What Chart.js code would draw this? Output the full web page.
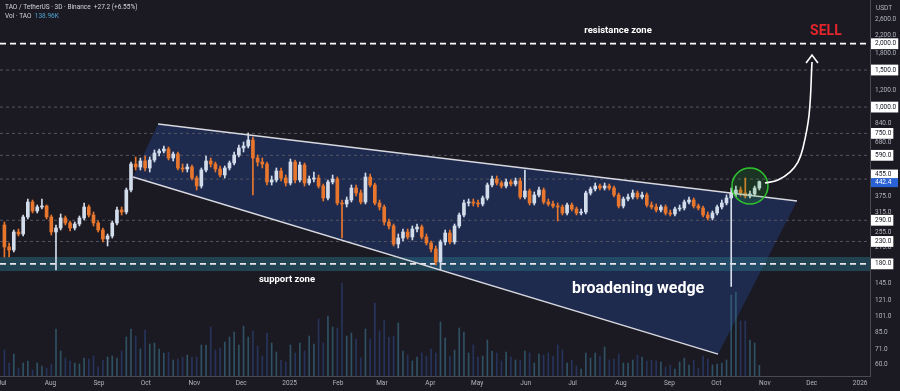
<!DOCTYPE html>
<html><head><meta charset="utf-8">
<script src="https://cdn.jsdelivr.net/npm/chart.js@4.4.1/dist/chart.umd.min.js"></script>
<style>html,body{margin:0;padding:0;background:#1b1a23;overflow:hidden}canvas{display:block}</style>
</head><body>
<canvas id="c" width="900" height="391"></canvas>
<script>
// ---- DATA (TAO/USDT, 3D candles, Binance) ----
const open = [275.4,216.5,209.5,255.1,249.6,300.6,354.1,320.9,335.3,339.0,300.6,255.1,266.5,297.3,281.5,266.5,278.4,297.3,335.3,307.2,281.5,260.7,236.3,244.2,281.5,324.5,317.4,403.8,536.6,519.3,554.5,513.7,560.6,605.2,618.6,632.3,573.0,598.6,513.7,508.1,519.3,460.4,421.9,502.5,554.5,536.6,508.1,475.8,513.7,542.5,592.1,639.3,653.4,697.7,573.0,548.5,536.6,440.7,450.5,497.1,460.4,435.9,548.5,450.5,530.8,435.9,455.4,460.4,421.9,370.0,440.7,455.4,350.3,346.5,361.9,412.7,390.8,354.1,465.5,426.5,350.3,335.3,284.6,272.4,223.7,238.9,255.1,241.5,263.6,269.4,241.5,226.2,211.8,183.8,228.7,252.3,228.7,272.4,307.2,350.3,354.1,350.3,346.5,370.0,426.5,455.4,435.9,421.9,440.7,431.2,445.6,374.0,399.4,350.3,382.3,403.8,354.1,346.5,339.0,335.3,314.0,342.7,328.0,314.0,317.4,390.8,408.2,421.9,412.7,421.9,412.7,382.3,339.0,365.9,374.0,390.8,374.0,382.3,342.7,335.3,324.5,335.3,314.0,310.6,328.0,331.6,354.1,361.9,339.0,331.6,307.2,297.3,314.0,335.3,350.3,370.0,390.8,403.8,390.8,378.2,386.5,412.7];
const high = [284.6,226.2,260.7,263.6,307.2,365.9,361.9,342.7,365.9,342.7,307.2,275.4,310.6,303.9,287.7,284.6,303.9,350.3,342.7,317.4,287.7,266.5,249.6,287.7,335.3,335.3,412.7,548.5,579.3,573.0,585.7,579.3,625.4,632.3,653.4,646.3,611.9,611.9,536.6,536.6,530.8,470.6,513.7,585.7,573.0,548.5,525.0,525.0,554.5,611.9,660.6,682.6,753.3,721.0,592.1,573.0,548.5,470.6,513.7,513.7,475.8,566.8,560.6,548.5,542.5,470.6,491.7,475.8,431.2,450.5,475.8,465.5,361.9,374.0,426.5,426.5,403.8,486.3,481.0,435.9,361.9,342.7,294.1,278.4,249.6,263.6,263.6,272.4,278.4,275.4,249.6,231.2,218.9,233.7,260.7,260.7,278.4,314.0,361.9,365.9,365.9,361.9,378.2,435.9,470.6,470.6,445.6,455.4,450.5,460.4,460.4,502.5,408.2,395.1,417.3,412.7,365.9,358.0,350.3,342.7,350.3,350.3,335.3,328.0,399.4,417.3,435.9,431.2,435.9,431.2,421.9,390.8,374.0,386.5,403.8,399.4,395.1,390.8,354.1,346.5,342.7,342.7,324.5,335.3,342.7,361.9,374.0,370.0,346.5,339.0,317.4,320.9,342.7,361.9,382.3,412.7,421.9,417.3,460.4,399.4,421.9,445.6];
const low = [194.1,194.1,205.0,244.2,244.2,294.1,314.0,314.0,328.0,294.1,246.9,168.4,260.7,275.4,257.9,260.7,272.4,290.9,300.6,272.4,255.1,228.7,218.9,238.9,275.4,307.2,310.6,395.1,502.5,502.5,497.1,491.7,548.5,585.7,605.2,560.6,554.5,502.5,491.7,491.7,450.5,403.8,412.7,491.7,519.3,491.7,465.5,460.4,502.5,530.8,579.3,611.9,639.3,382.3,525.0,513.7,426.5,426.5,440.7,445.6,421.9,426.5,435.9,440.7,421.9,426.5,440.7,412.7,358.0,361.9,431.2,342.7,238.9,335.3,354.1,378.2,346.5,346.5,417.3,342.7,324.5,275.4,263.6,218.9,214.2,231.2,236.3,233.7,255.1,236.3,221.3,205.0,177.8,168.4,221.3,223.7,223.7,266.5,300.6,339.0,339.0,335.3,339.0,361.9,417.3,426.5,412.7,412.7,421.9,421.9,365.9,365.9,342.7,342.7,374.0,346.5,339.0,331.6,287.7,307.2,307.2,320.9,307.2,307.2,310.6,382.3,399.4,403.8,403.8,403.8,374.0,331.6,331.6,358.0,365.9,365.9,365.9,335.3,328.0,317.4,317.4,307.2,303.9,303.9,320.9,324.5,346.5,331.6,324.5,300.6,290.9,290.9,307.2,328.0,342.7,140.6,374.0,378.2,370.0,370.0,378.2,403.8];
const close = [216.5,209.5,255.1,249.6,300.6,354.1,320.9,335.3,339.0,300.6,255.1,266.5,297.3,281.5,266.5,278.4,297.3,335.3,307.2,281.5,260.7,236.3,244.2,281.5,324.5,317.4,403.8,536.6,519.3,554.5,513.7,560.6,605.2,618.6,632.3,573.0,598.6,513.7,508.1,519.3,460.4,421.9,502.5,554.5,536.6,508.1,475.8,513.7,542.5,592.1,639.3,653.4,697.7,573.0,548.5,536.6,440.7,450.5,497.1,460.4,435.9,548.5,450.5,530.8,435.9,455.4,460.4,421.9,370.0,440.7,455.4,350.3,346.5,361.9,412.7,390.8,354.1,465.5,426.5,350.3,335.3,284.6,272.4,223.7,238.9,255.1,241.5,263.6,269.4,241.5,226.2,211.8,183.8,228.7,252.3,228.7,272.4,307.2,350.3,354.1,350.3,346.5,370.0,426.5,455.4,435.9,421.9,440.7,431.2,445.6,374.0,399.4,350.3,382.3,403.8,354.1,346.5,339.0,335.3,314.0,342.7,328.0,314.0,317.4,390.8,408.2,421.9,412.7,421.9,412.7,382.3,339.0,365.9,374.0,390.8,374.0,382.3,342.7,335.3,324.5,335.3,314.0,310.6,328.0,331.6,354.1,361.9,339.0,331.6,307.2,297.3,314.0,335.3,350.3,370.0,390.8,403.8,390.8,378.2,386.5,412.7,442.4];
const volume = [338,169,286,104,169,195,78,169,130,104,156,611,325,234,195,169,156,234,221,260,117,208,247,260,234,325,507,611,520,351,598,416,429,351,299,312,208,221,247,273,247,247,403,403,637,338,364,442,507,572,403,650,507,585,390,260,559,429,312,208,182,403,299,429,325,520,416,741,429,780,637,624,1209,520,559,481,234,611,481,949,585,728,507,520,689,325,273,195,247,299,260,351,299,702,494,260,338,624,572,299,403,247,260,468,325,299,195,312,247,208,208,325,299,169,286,273,299,260,403,338,169,208,130,91,299,234,299,260,377,208,221,286,169,169,208,273,247,195,208,195,182,117,143,91,182,234,143,208,104,260,221,143,156,169,208,1053,1092,715,715,468,429,139];
// time axis: days since 2024-07-01, 3-day candles
const candleDay = open.map((_, i) => 1.5 + 3 * i);
const monthDays = [0,31,62,92,123,153,184,215,243,274,304,335,365,396,427,457,488,518,549];
const monthLabels = ['Jul','Aug','Sep','Oct','Nov','Dec','2025','Feb','Mar','Apr','May','Jun','Jul','Aug','Sep','Oct','Nov','Dec','2026'];
// price axis labels
const priceTicks = [60,71,85,101,121,145,180,215,230,255,290,315,375,590,680,750,840,1000,1200,1500,1800,2000,2200,2600];
const boxedTicks = [180,230,290,590,750,1000,1500,2000];
const levelLines = [1500,1000,750,590,455,290,230];
const resistanceLevel = 2000;
const supportLevel = 180;
const supportBand = [166.4, 194.1];
const lastPrice = 442.4;
const extraLevelLabel = 455;
// drawing annotations (day, price)
const wedgeUpper = [[99.8, 831], [508.6, 358]];
const wedgeLower = [[83.8, 465.4], [458.1, 67.1]];
const arrowPath = [[488.1,435.7],[496.4,450.4],[504.1,491.4],[509.2,548],[512.4,639],[516.3,917],[518.2,1637]];
const arrowHead = [[514.4,1619],[518.2,1767],[522.0,1619]];
const circleAt = [478.5, 421.7];
const notes = [
  {text:'resistance zone', d:394.1, p:2298, font:'bold 9.5px Roboto', color:'#ffffff'},
  {text:'SELL', d:527.1, p:2298, font:'bold 14px Roboto', color:'#e3262c'},
  {text:'support zone', d:182.3, p:150.8, font:'bold 9.5px Roboto', color:'#ffffff'},
  {text:'broadening wedge', d:406.9, p:136.7, font:'bold 16px Roboto', color:'#ffffff'}
];
const X_MIN = -1.32, X_MAX = 555.3, Y_MIN = 52.8, Y_MAX = 3226, VOL_MAX = 4888;

// ---- CHART ----
const UP = '#d2dcea', DOWN = '#e8772d';
const isUp = close.map((c, i) => c >= open[i]);
const candleColors = isUp.map(u => u ? UP : DOWN);
const volColors = isUp.map(u => u ? 'rgba(62,118,142,0.6)' : 'rgba(46,70,128,0.6)');
const fmt = v => v.toLocaleString('en-US', {minimumFractionDigits:1, maximumFractionDigits:1});
const seg = (pts) => pts.map(p => ({x:p[0], y:p[1]}));

const datasets = [];
datasets.push({type:'line', data: seg(arrowPath), borderColor:'#ffffff', borderWidth:1.6, pointRadius:0, tension:0.4, order:0, yAxisID:'y'});
datasets.push({type:'line', data: seg(arrowHead), borderColor:'#ffffff', borderWidth:1.6, pointRadius:0, tension:0, order:0, yAxisID:'y'});
datasets.push({type:'bubble', data:[{x:circleAt[0], y:circleAt[1], r:18}], borderColor:'#2fc42f', borderWidth:1.5, backgroundColor:'rgba(40,190,40,0.16)', order:0, yAxisID:'y'});
datasets.push({type:'line', data: seg(wedgeUpper), borderColor:'#d8d8e0', borderWidth:1.4, pointRadius:0, order:1, yAxisID:'y'});
datasets.push({type:'line', data: seg(wedgeLower), borderColor:'#d8d8e0', borderWidth:1.4, pointRadius:0, order:1, yAxisID:'y'});
datasets.push({type:'bar', data: candleDay.map((d,i)=>({x:d, y:[open[i], close[i]]})), backgroundColor:candleColors, barThickness:3, minBarLength:1, grouped:false, order:2, yAxisID:'y'});
datasets.push({type:'bar', data: candleDay.map((d,i)=>({x:d, y:[low[i], high[i]]})), backgroundColor:candleColors, barThickness:1, grouped:false, order:3, yAxisID:'y'});
datasets.push({type:'bar', data: candleDay.map((d,i)=>({x:d, y:volume[i]})), backgroundColor:volColors, barThickness:1, grouped:false, order:4, yAxisID:'yv'});
datasets.push({type:'line', data:[{x:X_MIN,y:resistanceLevel},{x:X_MAX,y:resistanceLevel}], borderColor:'#ffffff', borderWidth:1.8, borderDash:[6,4], pointRadius:0, order:5, yAxisID:'y'});
datasets.push({type:'line', data:[{x:X_MIN,y:supportLevel},{x:X_MAX,y:supportLevel}], borderColor:'#e6e6ea', borderWidth:1.8, borderDash:[6,4], pointRadius:0, order:5, yAxisID:'y'});
levelLines.forEach(v => datasets.push({type:'line', data:[{x:X_MIN,y:v},{x:X_MAX,y:v}], borderColor:'#55555f', borderWidth:1, borderDash:[3,3], pointRadius:0, order:6, yAxisID:'y'}));

const decor = {
  id:'decor',
  beforeDraw(chart){ const c=chart.ctx; c.save(); c.fillStyle='#1b1a23'; c.fillRect(0,0,chart.width,chart.height); c.restore(); },
  beforeDatasetsDraw(chart){
    const {ctx, chartArea:a, scales:{x, y}} = chart;
    ctx.save();
    ctx.beginPath(); ctx.rect(a.left, a.top, a.right-a.left, a.bottom-a.top); ctx.clip();
    const pts = [wedgeUpper[0], wedgeUpper[1], wedgeLower[1], wedgeLower[0]];
    ctx.beginPath();
    pts.forEach((p,i)=>{ const px=x.getPixelForValue(p[0]), py=y.getPixelForValue(p[1]); i?ctx.lineTo(px,py):ctx.moveTo(px,py); });
    ctx.closePath(); ctx.fillStyle='rgba(36,72,155,0.36)'; ctx.fill();
    const b1=y.getPixelForValue(supportBand[1]), b0=y.getPixelForValue(supportBand[0]);
    ctx.fillStyle='rgba(40,105,125,0.5)'; ctx.fillRect(a.left, b1, a.right-a.left, b0-b1);
    ctx.restore();
  },
  afterDraw(chart){
    const {ctx, chartArea:a, scales:{x, y}} = chart;
    ctx.save();
    ctx.textBaseline='middle'; ctx.textAlign='center';
    notes.forEach(n => { ctx.font=n.font; ctx.fillStyle=n.color; ctx.fillText(n.text, x.getPixelForValue(n.d), y.getPixelForValue(n.p)); });
    // price axis special labels
    ctx.textAlign='left'; ctx.font='6.5px Roboto';
    let py = y.getPixelForValue(extraLevelLabel) - 5;
    ctx.fillStyle='#ffffff'; ctx.fillRect(a.right+1, py-4.5, 27, 9);
    ctx.fillStyle='#131722'; ctx.fillText(fmt(extraLevelLabel), a.right+5, py);
    py = y.getPixelForValue(lastPrice) + 1;
    ctx.fillStyle='#2a62d6'; ctx.fillRect(a.right+1, py-4.5, 27, 9);
    ctx.fillStyle='#ffffff'; ctx.fillText(fmt(lastPrice), a.right+5, py);
    ctx.fillStyle='#b2b5be'; ctx.fillText('USDT', a.right+6, 8);
    // header
    ctx.font='6.5px Roboto'; ctx.fillStyle='#d1d4dc';
    const t1='TAO / TetherUS · 3D · Binance  ';
    ctx.fillText(t1, 5, 7);
    ctx.fillText('+27.2 (+6.55%)', 5+ctx.measureText(t1).width, 7);
    const t2='Vol · TAO  ';
    ctx.fillText(t2, 5, 16);
    ctx.fillStyle='#4fa3d1'; ctx.fillText('138.96K', 5+ctx.measureText(t2).width, 16);
    ctx.restore();
  }
};

new Chart(document.getElementById('c'), {
  type:'line',
  data:{datasets},
  plugins:[decor],
  options:{
    responsive:false, animation:false, devicePixelRatio:1,
    layout:{padding:0, autoPadding:false},
    plugins:{legend:{display:false}, tooltip:{enabled:false}},
    scales:{
      x:{type:'linear', min:X_MIN, max:X_MAX, offset:false,
        grid:{display:false, drawTicks:false},
        border:{display:true, color:'#4a4a55'},
        afterBuildTicks:s=>{ s.ticks = monthDays.map(v=>({value:v})); },
        afterFit:s=>{ s.height=15; s.paddingLeft=0; s.paddingRight=0; },
        ticks:{autoSkip:false, maxRotation:0, padding:3, color:'#b2b5be', font:{size:6.5, family:'Roboto'},
          callback:v=>{ const k=monthDays.indexOf(v); return k>=0?monthLabels[k]:''; }}
      },
      y:{type:'logarithmic', position:'right', min:Y_MIN, max:Y_MAX,
        grid:{display:false, drawTicks:false},
        border:{display:true, color:'#4a4a55'},
        afterBuildTicks:s=>{ s.ticks = priceTicks.map(v=>({value:v})); },
        afterFit:s=>{ s.width=30; s.paddingTop=0; s.paddingBottom=0; },
        ticks:{autoSkip:false, padding:5, font:{size:6.5, family:'Roboto'},
          color:c=> boxedTicks.includes(c.tick.value)?'#131722':'#b2b5be',
          showLabelBackdrop:c=> boxedTicks.includes(c.tick.value),
          backdropColor:'#ffffff', backdropPadding:{left:4,right:2,top:1.5,bottom:1.5},
          callback:v=>fmt(v)}
      },
      yv:{type:'linear', display:false, min:0, max:VOL_MAX}
    }
  }
});
</script>
</body></html>
